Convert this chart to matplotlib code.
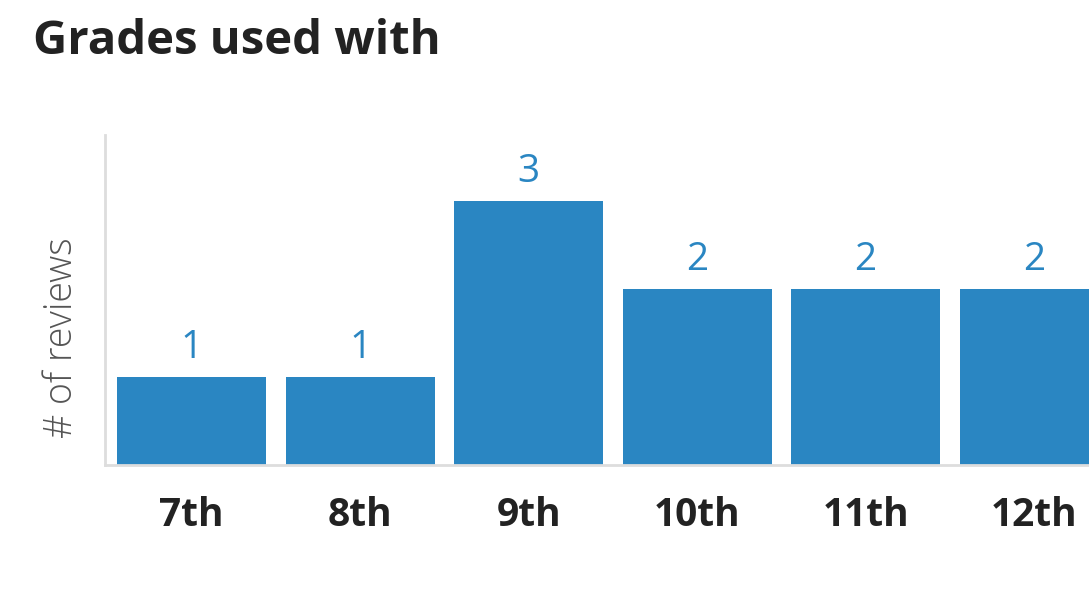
import matplotlib
matplotlib.use("Agg")
import matplotlib.pyplot as plt

# data
grades = ["7th", "8th", "9th", "10th", "11th", "12th"]
reviews = [1, 1, 3, 2, 2, 2]

BLUE = "#2a86c2"
DARK = "#222222"
SPINE = "#dddddd"

plt.rcParams["font.family"] = ["Open Sans", "DejaVu Sans"]

fig = plt.figure(figsize=(10.89, 5.91), dpi=100)
W, H = 1089, 591

# axes runs past the right edge so the last bar is cut, as in the reference
left_px, bottom_px, top_px = 105, 465, 135
step = 168.5
x0 = -0.514
x1 = 5.5
ax = fig.add_axes([left_px / W, (H - bottom_px) / H,
                   (x1 - x0) * step / W, (bottom_px - top_px) / H])

x = list(range(len(grades)))
ax.bar(x, reviews, width=0.885, color=BLUE, zorder=2)

for xi, v in zip(x, reviews):
    ax.annotate(str(v), (xi, v), xytext=(0, 7), textcoords="offset points",
                ha="center", va="bottom", color=BLUE, fontsize=28)

ax.set_xlim(x0, x1)
ax.set_ylim(0, 3.75)
ax.set_yticks([])
ax.set_xticks(x)
ax.set_xticklabels(grades, fontsize=28, fontweight="bold", color=DARK)
ax.tick_params(axis="x", length=0, pad=22)

for s in ["top", "right"]:
    ax.spines[s].set_visible(False)
for s in ["left", "bottom"]:
    ax.spines[s].set_color(SPINE)
    ax.spines[s].set_linewidth(2)

ax.set_ylabel("# of reviews", fontsize=27, fontweight="light", color="#555555")
ax.yaxis.set_label_coords(-0.024, 0.385)

fig.text(33 / W, 1 - 41 / H, "Grades used with", fontsize=34, fontweight="bold",
         color=DARK, ha="left", va="center")

fig.savefig("out.png", dpi=100)
